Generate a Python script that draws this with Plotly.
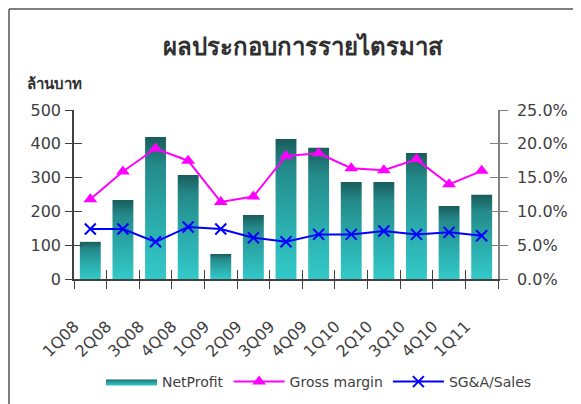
import plotly.graph_objects as go

quarters = ["1Q08", "2Q08", "3Q08", "4Q08", "1Q09", "2Q09", "3Q09",
            "4Q09", "1Q10", "2Q10", "3Q10", "4Q10", "1Q11"]
net_profit = [110, 234, 420, 308, 74, 189, 414, 388, 287, 287, 373, 216, 249]
gross_margin = [11.8, 15.9, 19.3, 17.5, 11.4, 12.2, 18.2, 18.6, 16.4, 16.1, 17.7, 14.0, 16.0]
sga_sales = [7.4, 7.4, 5.5, 7.7, 7.4, 6.1, 5.5, 6.6, 6.6, 7.1, 6.6, 6.9, 6.4]
left_ticks = [0, 100, 200, 300, 400, 500]
right_ticks = [0, 5, 10, 15, 20, 25]

# the page body adds an 8px offset; design targets are given in page pixels
OFF = 8
W, H = 581 - OFF, 404 - OFF
PL, PR, PT, PB = 74, 498, 110, 279          # plot area in page pixels
L, T = PL - OFF, PT - OFF
R, B = W - (PR - OFF), H - (PB - OFF)
PW, PH = W - L - R, H - T - B

def px_x(p):
    return (p - PL) / PW

def px_y(q):
    return (PB - q) / PH

FONT = "DejaVu Sans, Noto Sans, sans-serif"
TXT = "#404040"
bar_w = 0.64
grad = [[0, "#33c9c9"], [0.45, "#2aa8a8"], [0.8, "#248a8a"], [1, "#1a5c5c"]]

fig = go.Figure()

for i, v in enumerate(net_profit):
    fig.add_trace(go.Scatter(
        x=[i - bar_w / 2, i + bar_w / 2, i + bar_w / 2, i - bar_w / 2, i - bar_w / 2],
        y=[0, 0, v, v, 0],
        mode="lines", line=dict(width=0, color="#2aa8a8"),
        fill="toself",
        fillgradient=dict(type="vertical", colorscale=grad),
        name="NetProfit", legendgroup="np", showlegend=(i == 0),
        hoverinfo="skip",
    ))

fig.add_trace(go.Scatter(
    x=list(range(len(quarters))), y=gross_margin, yaxis="y2",
    mode="lines+markers", name="Gross margin",
    line=dict(color="#ff00ff", width=2),
    marker=dict(symbol="triangle-up", size=12, color="#ff00ff"),
))
fig.add_trace(go.Scatter(
    x=list(range(len(quarters))), y=sga_sales, yaxis="y2",
    mode="lines+markers", name="SG&A/Sales",
    line=dict(color="#0000ff", width=2),
    marker=dict(symbol="x-thin", size=11, color="#0000ff",
                line=dict(color="#0000ff", width=2)),
))
# empty traces to host the overlay axes that draw the crossing tick marks
fig.add_trace(go.Scatter(x=[None], y=[None], xaxis="x3", yaxis="y3",
                         showlegend=False, hoverinfo="skip"))
fig.add_trace(go.Scatter(x=[None], y=[None], xaxis="x4", yaxis="y4",
                         showlegend=False, hoverinfo="skip"))

xr = [-0.5, len(quarters) - 0.5]
bounds = [k - 0.5 for k in range(len(quarters) + 1)]

fig.update_layout(
    width=W, height=H,
    margin=dict(l=L, r=R, t=T, b=B, autoexpand=False),
    paper_bgcolor="white", plot_bgcolor="white",
    font=dict(family=FONT, color=TXT),
    title=dict(text="<b>ผลประกอบการรายไตรมาส</b>", x=(303 - OFF) / W, xanchor="center",
               y=1 - (47 - OFF) / H, yanchor="middle",
               font=dict(size=24, color="#303030")),
    xaxis=dict(range=xr, tickmode="array", tickvals=list(range(len(quarters))),
               ticktext=quarters, tickangle=-45, ticks="",
               tickfont=dict(size=16, color=TXT),
               ticklabelshift=-16, ticklabelstandoff=30,
               showline=True, linecolor=TXT, linewidth=1.5,
               showgrid=False, zeroline=False, fixedrange=True),
    xaxis3=dict(range=xr, overlaying="x", anchor="y3", tickmode="array",
                tickvals=bounds, ticks="outside", ticklen=9, tickcolor=TXT,
                showticklabels=False, showline=False, showgrid=False, zeroline=False),
    xaxis4=dict(range=xr, overlaying="x", anchor="y4", tickmode="array",
                tickvals=bounds, ticks="inside", ticklen=9, tickcolor=TXT,
                showticklabels=False, showline=False, showgrid=False, zeroline=False),
    yaxis=dict(range=[0, 500], tickmode="array", tickvals=left_ticks,
               ticks="outside", ticklen=7, tickcolor=TXT,
               tickfont=dict(size=16, color=TXT), ticklabelstandoff=1,
               showline=True, linecolor=TXT, linewidth=1.5,
               showgrid=False, zeroline=False),
    yaxis2=dict(range=[0, 25], overlaying="y", side="right", anchor="x",
                tickmode="array", tickvals=right_ticks,
                ticktext=[f"{t:.1f}%" for t in right_ticks],
                ticks="outside", ticklen=8, tickcolor="#808080",
                tickfont=dict(size=16, color=TXT), ticklabelstandoff=6,
                showline=True, linecolor="#808080", linewidth=1.5,
                showgrid=False, zeroline=False),
    yaxis3=dict(range=[0, 500], overlaying="y", side="left", anchor="x3",
                tickmode="array", tickvals=left_ticks,
                ticks="inside", ticklen=8, tickcolor=TXT,
                showticklabels=False, showline=False, showgrid=False, zeroline=False),
    yaxis4=dict(range=[0, 25], overlaying="y", side="right", anchor="x4",
                tickmode="array", tickvals=right_ticks,
                ticks="inside", ticklen=8, tickcolor="#808080",
                showticklabels=False, showline=False, showgrid=False, zeroline=False),
    legend=dict(orientation="h", x=px_x(537), xanchor="right",
                y=px_y(382), yanchor="middle",
                font=dict(size=14, color=TXT), bgcolor="rgba(0,0,0,0)",
                itemwidth=51, tracegroupgap=0),
    showlegend=True,
    annotations=[dict(text="<b>ล้านบาท</b>", x=px_x(25), y=px_y(84),
                      xref="paper", yref="paper", xanchor="left", yanchor="middle",
                      showarrow=False, font=dict(size=15, color="#303030"))],
    shapes=[
        # chart frame: only its top and left edges fall inside the picture
        dict(type="line", xref="paper", yref="paper",
             x0=-L / PW + 1 / PW, x1=-L / PW + 1 / PW,
             y0=1 + T / PH - 1 / PH, y1=-B / PH - 0.1,
             line=dict(color="#555555", width=1.5)),
        dict(type="line", xref="paper", yref="paper",
             x0=-L / PW + 1 / PW, x1=1 + R / PW + 0.1,
             y0=1 + T / PH - 1 / PH, y1=1 + T / PH - 1 / PH,
             line=dict(color="#555555", width=1.5)),
    ],
)

fig.write_html("out.html")
